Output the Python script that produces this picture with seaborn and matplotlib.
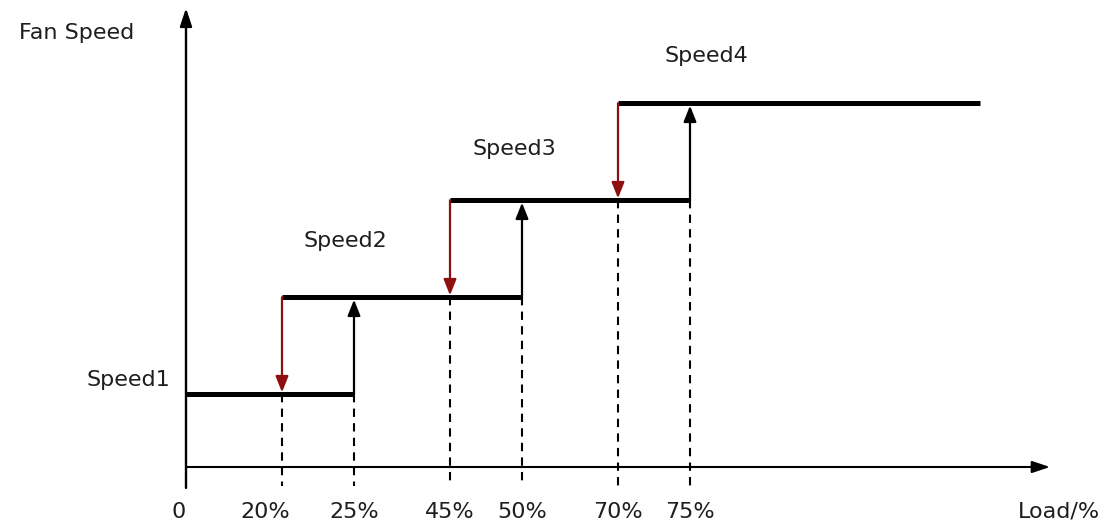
import numpy as np
import pandas as pd
import matplotlib
matplotlib.use('Agg')
import matplotlib.pyplot as plt
import seaborn as sns

# ---------------------------------------------------------
# data (schematic units: x = load position, y = speed level)
# ---------------------------------------------------------
tick_labels = ['0', '20%', '25%', '45%', '50%', '70%', '75%']
tick_pos = [0.0, 1.0, 1.75, 2.75, 3.5, 4.5, 5.25]

speed_names = ['Speed1', 'Speed2', 'Speed3', 'Speed4']
speed_levels = [0.75, 1.75, 2.75, 3.75]
# each level runs from its switch-down point to its switch-up point
seg_start = [0.0, 1.0, 2.75, 4.5]
seg_end = [1.75, 3.5, 5.25, 8.27]

down_x = [1.0, 2.75, 4.5]     # 20%, 45%, 70%  (red, falling)
up_x = [1.75, 3.5, 5.25]      # 25%, 50%, 75%  (black, rising)

x_axis_end = 9.0
y_axis_end = 4.73

# ---------------------------------------------------------
sns.set_theme(style='white')
plt.rcParams['font.family'] = ['DejaVu Sans']

fig = plt.figure(figsize=(11.11, 5.24), dpi=100)
ax = fig.add_axes([0, 0, 1, 1])
ax.set_xlim(-186 / 96, 925 / 96)
ax.set_ylim(-57 / 97, 467 / 97)

txt_color = '#1e1e1e'
red = '#8e0f0f'

# dashed guide lines from each level down through the x axis
guide_top = [speed_levels[0], speed_levels[0], speed_levels[1],
             speed_levels[1], speed_levels[2], speed_levels[2]]
for x, top in zip(tick_pos[1:], guide_top):
    ax.plot([x, x], [top, -0.2], color='black', lw=1.5, ls=(0, (4, 3)),
            zorder=1)

# axes with arrows
ax.annotate('', xy=(x_axis_end, 0), xytext=(0, 0),
            arrowprops=dict(arrowstyle='-|>,head_length=0.9,head_width=0.3',
                            color='black', lw=1.5, shrinkA=0, shrinkB=0))
ax.annotate('', xy=(0, y_axis_end), xytext=(0, -0.216),
            arrowprops=dict(arrowstyle='-|>,head_length=0.9,head_width=0.3',
                            color='black', lw=1.7, shrinkA=0, shrinkB=0))

# horizontal speed levels
segs = pd.DataFrame({
    'x': seg_start + seg_end,
    'y': speed_levels + speed_levels,
    'seg': speed_names + speed_names,
})
sns.lineplot(data=segs, x='x', y='y', units='seg', estimator=None,
             color='black', lw=3.6, ax=ax, legend=False, zorder=3,
             solid_capstyle='butt')
ax.axis('off')

# switching arrows
for i, x in enumerate(down_x):
    ax.annotate('', xy=(x, speed_levels[i] + 0.02), xytext=(x, speed_levels[i + 1]),
                arrowprops=dict(arrowstyle='-|>,head_length=0.8,head_width=0.32',
                                color=red, lw=1.6, shrinkA=0, shrinkB=0),
                zorder=4)
for i, x in enumerate(up_x):
    ax.annotate('', xy=(x, speed_levels[i + 1] - 0.025), xytext=(x, speed_levels[i]),
                arrowprops=dict(arrowstyle='-|>,head_length=0.8,head_width=0.32',
                                color='black', lw=1.6, shrinkA=0, shrinkB=0),
                zorder=4)

# tick labels
label_shift = {'0': -0.08, '20%': -0.17}
for lab, x in zip(tick_labels, tick_pos):
    ax.text(x + label_shift.get(lab, 0.0), -0.46, lab, ha='center', va='center',
            fontsize=16, color=txt_color)

# speed labels
speed_text_xy = [(-0.6, 0.9), (1.66, 2.33), (3.42, 3.28), (5.42, 4.24)]
for name, (tx, ty) in zip(speed_names, speed_text_xy):
    ax.text(tx, ty, name, ha='center', va='center', fontsize=16, color=txt_color)

ax.text(-1.135, 4.47, 'Fan Speed', ha='center', va='center', fontsize=16,
        color=txt_color)
ax.text(9.09, -0.46, 'Load/%', ha='center', va='center', fontsize=16,
        color=txt_color)

fig.savefig('out.png', dpi=100, facecolor='white')
